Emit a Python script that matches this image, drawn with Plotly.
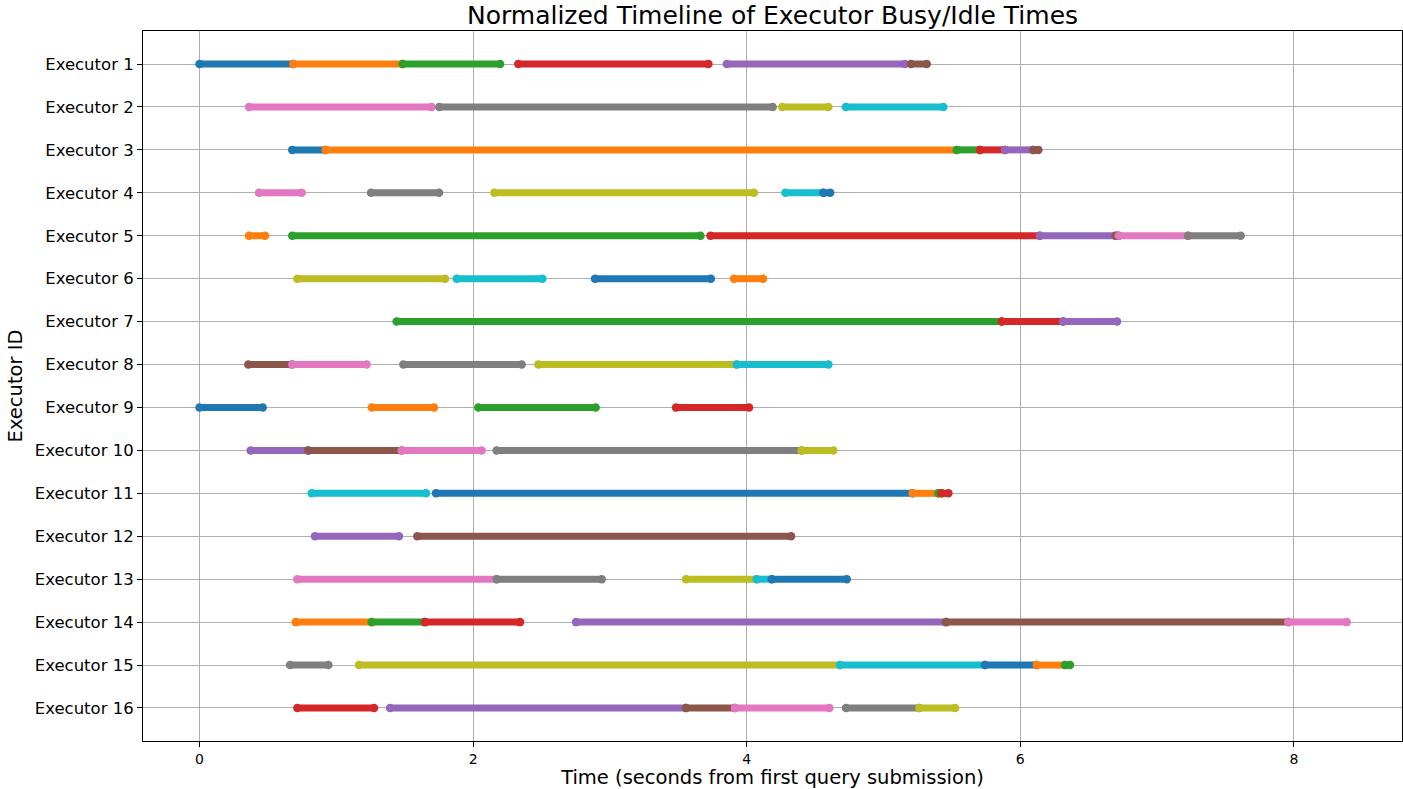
import plotly.graph_objects as go

# Executor rows, top to bottom
executors = [f"Executor {i}" for i in range(1, 17)]

# Busy interval start times (seconds from first query submission), per executor
seg_starts = [
    [0.0, 0.685, 1.485, 2.33, 3.854, 5.20],
    [0.362, 1.753, 4.26, 4.724],
    [0.678, 0.922, 5.535, 5.705, 5.888, 6.095],
    [0.435, 1.254, 2.155, 4.283, 4.56],
    [0.362, 0.678, 3.735, 6.143, 6.697, 6.72, 7.226],
    [0.715, 1.88, 2.891, 3.907],
    [1.441, 5.864, 6.312],
    [0.357, 0.678, 1.49, 2.477, 3.927],
    [0.0, 1.259, 2.038, 3.483],
    [0.374, 0.795, 1.478, 2.172, 4.402],
    [0.82, 1.729, 5.213, 5.401, 5.425],
    [0.844, 1.592],
    [0.715, 2.172, 3.556, 4.073, 4.183],
    [0.703, 1.259, 1.648, 2.752, 5.457, 7.959],
    [0.662, 1.166, 4.682, 5.742, 6.12, 6.327],
    [0.715, 1.393, 3.556, 3.914, 4.726, 5.262],
]

# Busy interval end times, matching seg_starts
seg_ends = [
    [0.685, 1.485, 2.197, 3.72, 5.157, 5.316],
    [1.697, 4.19, 4.597, 5.437],
    [0.922, 5.535, 5.705, 5.888, 6.095, 6.132],
    [0.747, 1.751, 4.053, 4.56, 4.61],
    [0.479, 3.662, 6.143, 6.697, 6.72, 7.226, 7.611],
    [1.795, 2.506, 3.738, 4.119],
    [5.864, 6.312, 6.707],
    [0.678, 1.222, 2.355, 3.927, 4.597],
    [0.462, 1.714, 2.896, 4.017],
    [0.795, 1.478, 2.063, 4.402, 4.633],
    [1.656, 5.213, 5.401, 5.425, 5.474],
    [1.458, 4.324],
    [2.172, 2.94, 4.073, 4.183, 4.731],
    [1.259, 1.648, 2.343, 5.457, 7.959, 8.386],
    [0.942, 4.682, 5.742, 6.12, 6.327, 6.363],
    [1.276, 3.556, 3.914, 4.604, 5.262, 5.523],
]

x_ticks = [0, 2, 4, 6, 8]

# matplotlib "tab10" color cycle, advanced once per segment
palette = ["#1f77b4", "#ff7f0e", "#2ca02c", "#d62728", "#9467bd",
           "#8c564b", "#e377c2", "#7f7f7f", "#bcbd22", "#17becf"]

FONT = "DejaVu Sans"

fig = go.Figure()
k = 0
for row, (starts, ends) in enumerate(zip(seg_starts, seg_ends)):
    for s, e in zip(starts, ends):
        c = palette[k % len(palette)]
        k += 1
        fig.add_trace(go.Scatter(
            x=[s, e], y=[row, row],
            mode="lines+markers",
            line=dict(color=c, width=7),
            marker=dict(color=c, size=8.5),
            showlegend=False,
            hoverinfo="x+y",
        ))

n = len(executors)
fig.update_layout(
    width=1403, height=789,
    margin=dict(l=143, r=1, t=31, b=48),
    plot_bgcolor="white",
    paper_bgcolor="white",
    font=dict(family=FONT, color="black"),
    title=dict(
        text="Normalized Timeline of Executor Busy/Idle Times",
        font=dict(family=FONT, size=25, color="black"),
        x=0.5, xref="paper", xanchor="center",
        y=1 - 15 / 789, yref="container", yanchor="middle",
    ),
    xaxis=dict(
        range=[-0.413, 8.79],
        tickvals=x_ticks,
        ticktext=[str(t) for t in x_ticks],
        tickfont=dict(family=FONT, size=14, color="black"),
        showgrid=True, gridcolor="#b0b0b0", gridwidth=1,
        zeroline=False,
        showline=True, linecolor="black", linewidth=1, mirror=True,
        ticks="outside", ticklen=5, tickcolor="black", tickwidth=1,
        title=dict(text="Time (seconds from first query submission)",
                   font=dict(family=FONT, size=19.5, color="black"),
                   standoff=4),
    ),
    yaxis=dict(
        range=[n - 1 + 0.769, -0.769],
        tickvals=list(range(n)),
        ticktext=executors,
        tickfont=dict(family=FONT, size=16.5, color="black"),
        showgrid=True, gridcolor="#b0b0b0", gridwidth=1,
        zeroline=False,
        showline=True, linecolor="black", linewidth=1, mirror=True,
        ticks="outside", ticklen=5, tickcolor="black", tickwidth=1,
        title=dict(text="Executor ID",
                   font=dict(family=FONT, size=19.5, color="black"),
                   standoff=6),
    ),
)

fig.write_html("out.html")
